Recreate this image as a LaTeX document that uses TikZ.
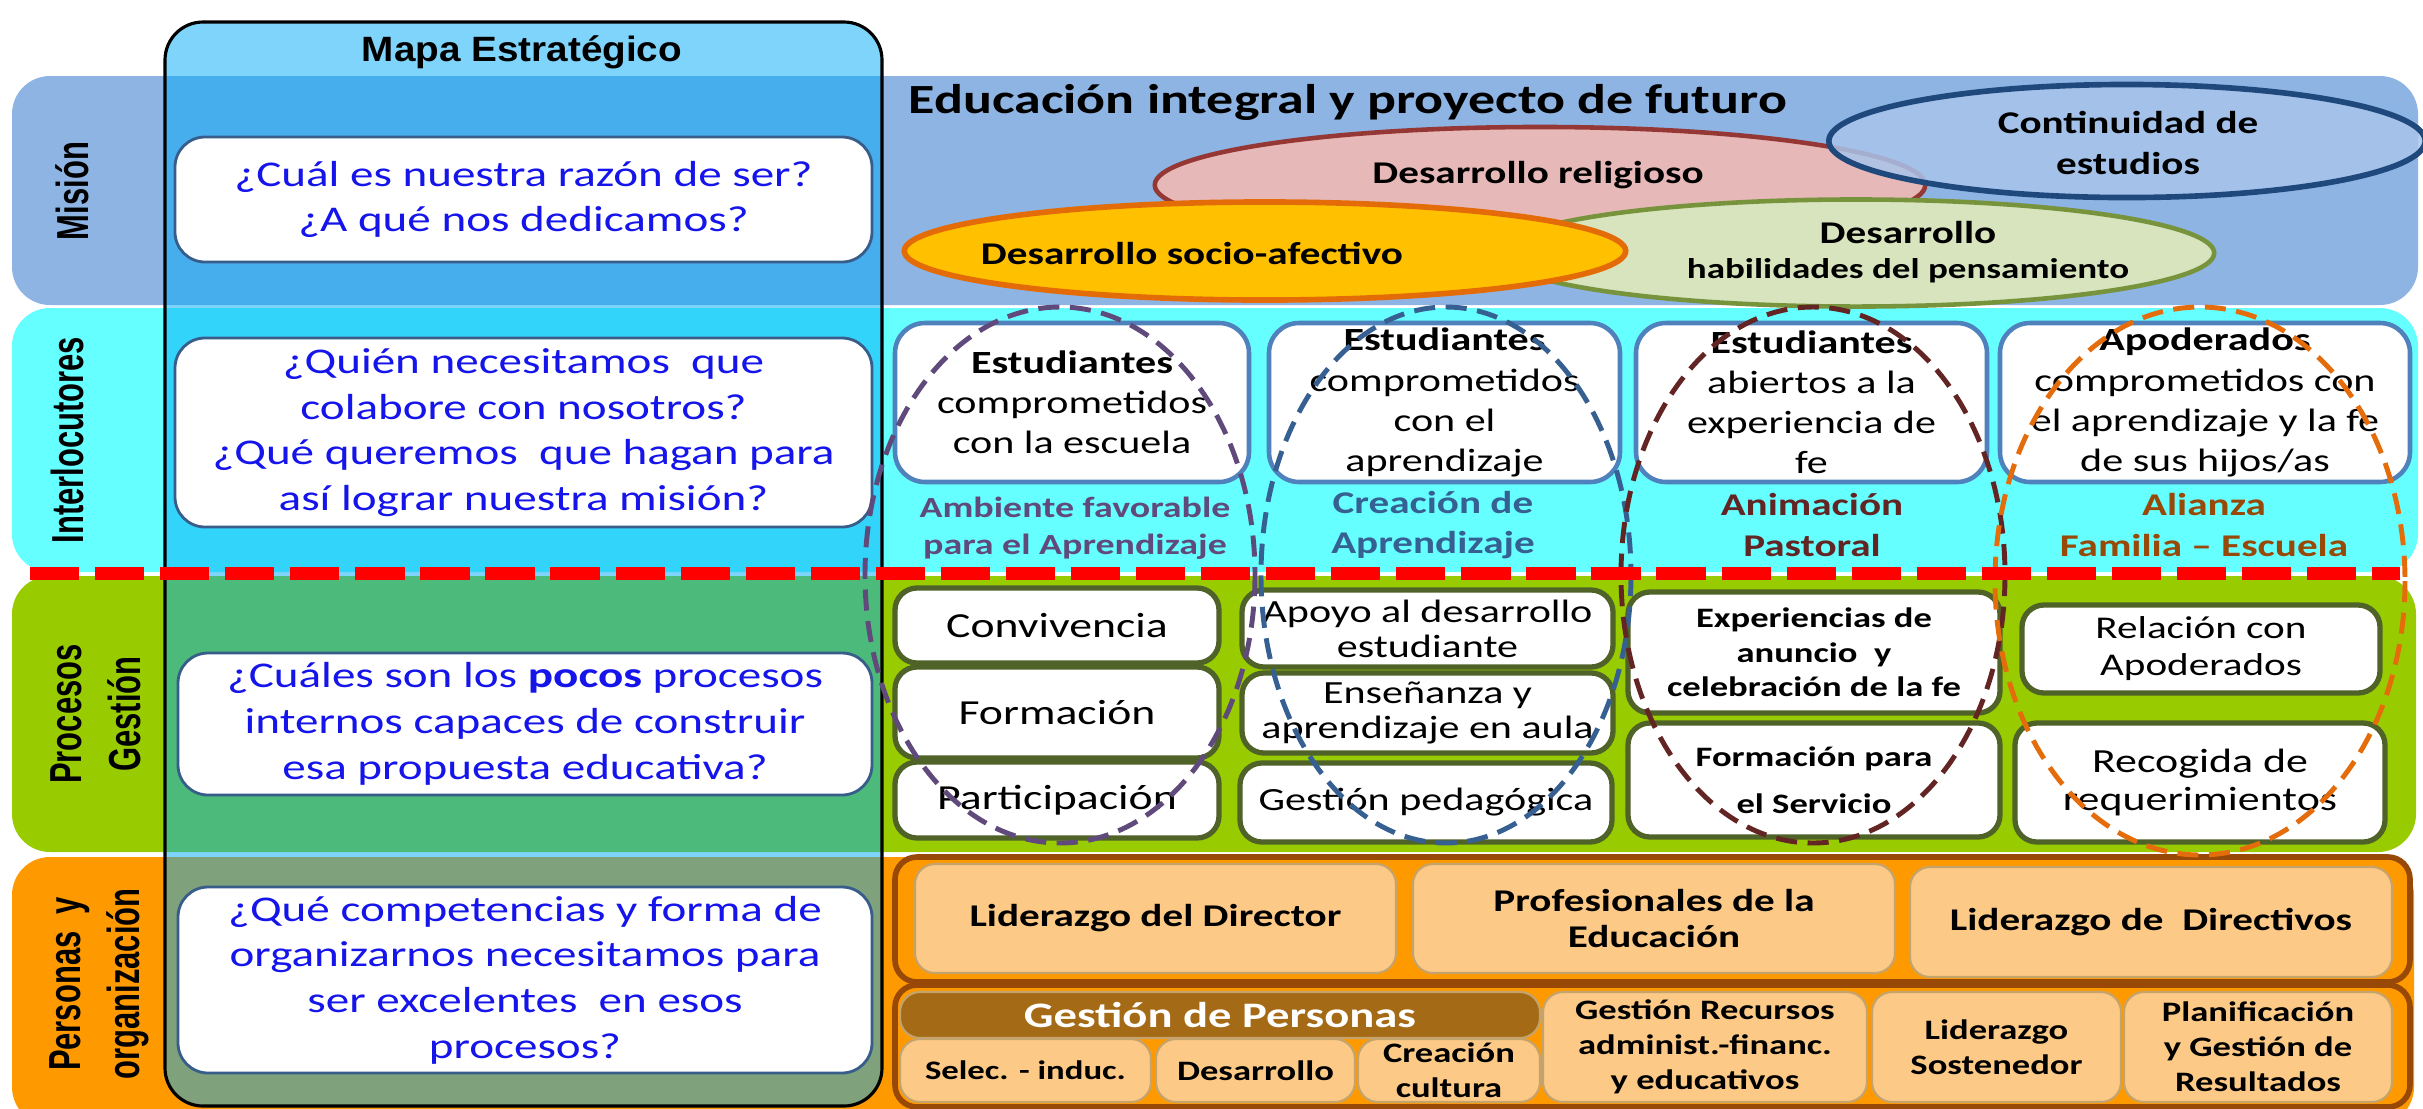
\documentclass[tikz,border=0pt]{standalone}
\usepackage{fontspec}
\usepackage{graphicx}
\usepackage{tikz}
\usetikzlibrary{shapes.geometric}
\setmainfont{Carlito}[FakeStretch=1.3]
\newfontfamily\headfont{Liberation Sans}[FakeStretch=1.1]
\newfontfamily\sidefont{Liberation Sans}
\newcommand{\vstretch}[1]{\scalebox{1}[1.45]{#1}}

\definecolor{misionC}{HTML}{8EB4E3}
\definecolor{interC}{HTML}{66FFFF}
\definecolor{procC}{HTML}{99CC00}
\definecolor{persC}{HTML}{FF9900}
\definecolor{mapaC}{RGB}{0,170,247}
\definecolor{qblue}{RGB}{20,20,235}
\definecolor{qline}{HTML}{385D8A}
\definecolor{iline}{HTML}{4F81BD}
\definecolor{pline}{HTML}{4F6228}
\definecolor{oline}{HTML}{984807}
\definecolor{lorange}{HTML}{FDC986}
\definecolor{lline}{HTML}{C4A46C}
\definecolor{gpbrown}{HTML}{A56A16}
\definecolor{relF}{HTML}{E6B9B8}
\definecolor{relB}{HTML}{953735}
\definecolor{conF}{HTML}{A9C4EB}
\definecolor{conB}{HTML}{1F497D}
\definecolor{socF}{HTML}{FFC000}
\definecolor{socB}{HTML}{E36C09}
\definecolor{habF}{HTML}{D7E4BD}
\definecolor{habB}{HTML}{77933C}
\definecolor{ambC}{HTML}{604A7B}
\definecolor{creC}{HTML}{376092}
\definecolor{aniC}{HTML}{632523}
\definecolor{aliC}{HTML}{E46C0A}
\definecolor{aliT}{HTML}{984807}

\tikzset{
  span box/.style n args={4}{minimum width={(#3-#1)*0.01cm}, minimum height={(#4-#2)*0.01cm}, at={({(#1+#3)/2},{(#2+#4)/2})}},
  sidelab/.style={font=\sidefont\bfseries\fontsize{8.8}{16.8}\selectfont, align=center, inner sep=0pt, rotate=90},
  qbox/.style={draw=qline, line width=0.8pt, fill=white, rounded corners=0.3cm, inner sep=0pt, align=center, text=qblue, font=\fontsize{10.3}{13}\selectfont},
  ibox/.style={draw=iline, line width=1.3pt, fill=white, rounded corners=0.3cm, inner sep=0pt, align=center, font=\fontsize{9.2}{11.4}\selectfont},
  areatag/.style={align=center, inner sep=0pt, font=\bfseries\fontsize{9}{11.4}\selectfont},
  pbox/.style={draw=pline, line width=1.5pt, fill=white, rounded corners=0.22cm, inner sep=0pt, align=center},
  obox/.style={draw=oline, line width=1.6pt, fill=persC, rounded corners=0.22cm, inner sep=0pt},
  lbox/.style={draw=lline, line width=0.6pt, fill=lorange, rounded corners=0.2cm, inner sep=0pt, align=center, font=\bfseries\fontsize{8}{10}\selectfont},
  goal/.style={ellipse, line width=1.3pt, inner sep=0pt, align=center},
  goaltext/.style={align=center, inner sep=0pt, font=\bfseries\fontsize{9}{11.4}\selectfont},
  ring/.style={line width=1.4pt, dash pattern=on 6pt off 3pt},
}

\begin{document}
\begin{tikzpicture}[x=0.01cm, y=-0.01cm]
		\useasboundingbox (0,0) rectangle (2423,1108);
		%%%%% BANDS %%%%%
		\fill[misionC, rounded corners=0.38cm] (12,76) rectangle (2418,305);
		\fill[interC, rounded corners=0.38cm] (12,308) rectangle (2418,572);
		\fill[procC, rounded corners=0.38cm] (12,576) rectangle (2416,852);
		\fill[persC, rounded corners=0.38cm] (12,857) rectangle (2414,1125);
		
		\node[sidelab] (mis) at (72,191) {\vstretch{Misión}};
		\node[sidelab] (int) at (67,440) {\vstretch{Interlocutores}};
		\node[sidelab] (pro) at (96,714) {\vstretch{Procesos}\\\vstretch{Gestión}};
		\node[sidelab] (per) at (99,984) {\vstretch{Personas\ \ y}\\\vstretch{organización}};
		
		%%%%% MAPA %%%%%
		\draw[fill=mapaC, fill opacity=0.5, line width=0.9pt, rounded corners=0.38cm] (165,22) rectangle (882,1106);
		\node[font=\headfont\bfseries\fontsize{10}{12}\selectfont] (mapa) at (522,52) {Mapa Estratégico};
		
		\node[qbox, span box={175}{137}{872}{262}] (q1) {¿Cuál es nuestra razón de ser?\\¿A qué nos dedicamos?};
		\node[qbox, span box={175}{338}{872}{527}] (q2) {¿Quién necesitamos\ \ que\\colabore con nosotros?\\¿Qué queremos\ \ que hagan para\\así lograr nuestra misión?};
		\node[qbox, span box={178}{653}{872}{795}] (q3) {¿Cuáles son los \textbf{pocos} procesos\\internos capaces de construir\\esa propuesta educativa?};
		\node[qbox, span box={178}{887}{872}{1073}] (q4) {¿Qué competencias y forma de\\organizarnos necesitamos para\\ser excelentes\ \ en esos\\procesos?};
		
		%%%%% MISION %%%%%
		\node[anchor=base west, inner sep=0pt, font=\bfseries\fontsize{11.8}{14}\selectfont] (edu) at (908,113) {Educación integral y proyecto de futuro};
		\node[goal, draw=relB, fill=relF, minimum width=7.7cm, minimum height=1.16cm] (rel) at (1540,185) {};
		\node[goaltext] (reltx) at (1538,175) {Desarrollo religioso};
		\node[goal, draw=conB, fill=conF, fill opacity=0.85, line width=1.6pt, minimum width=5.96cm, minimum height=1.13cm] (con) at (2127,141) {};
		\node[goaltext] (contx) at (2128,143) {Continuidad de\\estudios};
		\node[goal, draw=habB, fill=habF, minimum width=7.16cm, minimum height=1.07cm] (hab) at (1856,253) {};
		\node[goaltext, font=\bfseries\fontsize{9}{10}\selectfont] (habtx) at (1908,252) {Desarrollo\\{\fontsize{8.1}{10}\selectfont habilidades del pensamiento}};
		\node[goal, draw=socB, fill=socF, line width=1.6pt, minimum width=7.21cm, minimum height=0.98cm] (soc) at (1265,251) {};
		\node[goaltext] (soctx) at (1192,253) {Desarrollo socio-afectivo};
		
		%%%%% INTERLOCUTORES %%%%%
		\node[ibox, span box={895}{323}{1249}{482}] (est1) {\textbf{Estudiantes}\\comprometidos\\con la escuela};
		\node[ibox, span box={1269}{323}{1620}{482}] (est2) {\textbf{Estudiantes}\\comprometidos\\con el\\aprendizaje};
		\node[ibox, span box={1636}{323}{1987}{482}] (est3) {\textbf{Estudiantes}\\abiertos a la\\experiencia de\\fe};
		\node[ibox, span box={2000}{323}{2410}{482}] (apod) {\textbf{Apoderados}\\comprometidos con\\el aprendizaje y la fe\\de sus hijos/as};
		
		\node[areatag, text=ambC, font=\bfseries\fontsize{8.3}{10.5}\selectfont] (amb) at (1075,528) {Ambiente favorable\\para el Aprendizaje};
		\node[areatag, text=creC] (cre) at (1433,525) {Creación de\\Aprendizaje};
		\node[areatag, text=aniC] (ani) at (1812,525) {Animación\\Pastoral};
		\node[areatag, text=aliT] (ali) at (2204,525) {Alianza\\Familia – Escuela};
		
		%%%%% PROCESOS %%%%%
		\node[pbox, font=\fontsize{10}{12}\selectfont, span box={895}{588}{1219}{663}] (conv) {Convivencia};
		\node[pbox, font=\fontsize{10}{12}\selectfont, span box={895}{667}{1219}{758}] (form) {Formación};
		\node[pbox, font=\fontsize{10}{12}\selectfont, span box={895}{762}{1219}{838}] (part) {Participación};
		\node[pbox, font=\fontsize{9.2}{10}\selectfont, span box={1242}{590}{1613}{667}] (apoyo) {Apoyo al desarrollo\\estudiante};
		\node[pbox, font=\fontsize{9.2}{10}\selectfont, span box={1242}{673}{1613}{753}] (ense) {Enseñanza y\\aprendizaje en aula};
		\node[pbox, font=\fontsize{9.2}{11}\selectfont, span box={1240}{763}{1612}{842}] (gped) {Gestión pedagógica};
		\node[pbox, font=\bfseries\fontsize{8}{9.8}\selectfont, span box={1628}{592}{2000}{713}] (expe) {Experiencias de\\anuncio\ \ y\\celebración de la fe};
		\node[pbox, font=\bfseries\fontsize{8}{13.4}\selectfont, span box={1628}{723}{2000}{837}] (fserv) {Formación para\\el Servicio};
		\node[pbox, font=\fontsize{9}{10.5}\selectfont, span box={2022}{605}{2380}{693}] (rela) {Relación con\\Apoderados};
		\node[pbox, font=\fontsize{9.6}{11}\selectfont, span box={2015}{723}{2385}{842}] (recog) {Recogida de\\requerimientos};
		
		%%%%% PERSONAS %%%%%
		\node[obox, span box={895}{857}{2410}{982}] (lid) {};
		\node[obox, span box={895}{985}{2410}{1107}] (ges) {};
		\node[lbox, font=\bfseries\fontsize{9}{10.5}\selectfont, span box={915}{864}{1396}{973}] (ldir) {Liderazgo del Director};
		\node[lbox, font=\bfseries\fontsize{9}{10.5}\selectfont, span box={1413}{864}{1895}{973}] (prof) {Profesionales de la\\Educación};
		\node[lbox, font=\bfseries\fontsize{9}{10.5}\selectfont, span box={1910}{867}{2392}{977}] (ldirs) {Liderazgo de\ \ Directivos};
		\node[lbox, fill=gpbrown, text=white, font=\bfseries\fontsize{10.2}{12}\selectfont, span box={900}{992}{1540}{1038}] (gper) {Gestión de Personas};
		\node[lbox, font=\bfseries\fontsize{7.6}{10}\selectfont, span box={900}{1039}{1151}{1102}] (selec) {Selec. - induc.};
		\node[lbox, span box={1156}{1039}{1355}{1102}] (desa) {Desarrollo};
		\node[lbox, span box={1358}{1039}{1540}{1102}] (ccul) {Creación\\cultura};
		\node[lbox, span box={1543}{992}{1867}{1102}] (grec) {Gestión Recursos\\administ.-financ.\\y educativos};
		\node[lbox, span box={1872}{992}{2121}{1102}] (lsos) {Liderazgo\\Sostenedor};
		\node[lbox, span box={2124}{992}{2392}{1102}] (plan) {Planificación\\y Gestión de\\Resultados};
		
		%%%%% RINGS %%%%%
		\draw[ring, ambC] (1060,575) ellipse [x radius=195, y radius=268];
		\draw[ring, creC] (1446,575) ellipse [x radius=185, y radius=268];
		\draw[ring, aniC] (1813,575) ellipse [x radius=192, y radius=268];
		\draw[ring, aliC] (2200,581) ellipse [x radius=205, y radius=274];
		
		\draw[red, line width=3.7pt, dash pattern=on 14pt off 4.5pt] (30,573) -- (2400,573);
		%%%%% END %%%%%
\end{tikzpicture}
\end{document}
